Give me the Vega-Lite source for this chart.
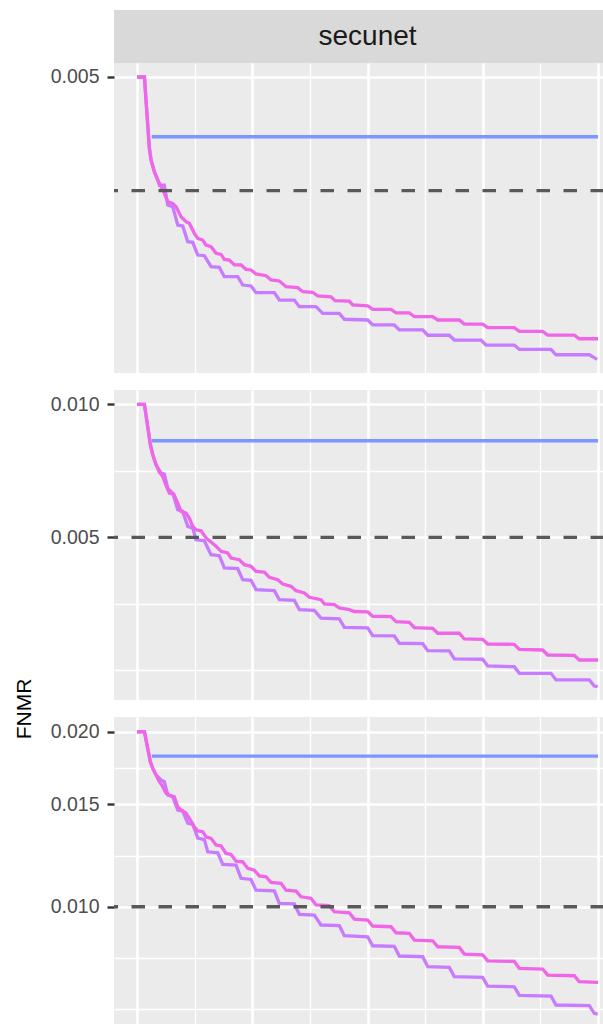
{
  "$schema": "https://vega.github.io/schema/vega-lite/v6.json",
  "padding": {"left": 14, "top": 10, "right": 0, "bottom": 0},
  "background": "#FFFFFF",
  "title": {"text": "FNMR", "orient": "left", "anchor": "middle", "dx": -192, "offset": 15, "fontSize": 21, "font": "Liberation Sans", "fontWeight": "normal", "color": "#000000"},
  "config": {
    "font": "Liberation Sans",
    "view": {"stroke": null},
    "axisY": {"labelFont": "Liberation Sans", "labelFontSize": 19.5, "labelColor": "#4D4D4D", "tickColor": "#333333", "tickSize": 7, "tickWidth": 2.4, "labelPadding": 8, "domain": false, "labelOverlap": false, "gridColor": "#FFFFFF"},
    "axisX": {"gridColor": "#FFFFFF"}
  },
  "datasets": {
    "strips": [{"strip": "secunet"}],
    "targets": [{"panel": 1, "fnmr": 0.0025}, {"panel": 2, "fnmr": 0.005}, {"panel": 3, "fnmr": 0.01}],
    "curves": [
      {"panel":1,"series":"s1","x":3.19,"fnmr":0.003474},{"panel":1,"series":"s1","x":100,"fnmr":0.003474},
      {"panel":2,"series":"s1","x":3.19,"fnmr":0.008271},{"panel":2,"series":"s1","x":100,"fnmr":0.008271},
      {"panel":3,"series":"s1","x":3.19,"fnmr":0.018166},{"panel":3,"series":"s1","x":100,"fnmr":0.018166},

      {"panel":1,"series":"s3","x":0,"fnmr":0.005},{"panel":1,"series":"s3","x":1.6,"fnmr":0.005},{"panel":1,"series":"s3","x":2.67,"fnmr":0.003237},{"panel":1,"series":"s3","x":3.04,"fnmr":0.003015},{"panel":1,"series":"s3","x":3.75,"fnmr":0.002807},{"panel":1,"series":"s3","x":4.49,"fnmr":0.002668},{"panel":1,"series":"s3","x":5.21,"fnmr":0.002562},{"panel":1,"series":"s3","x":5.92,"fnmr":0.002461},{"panel":1,"series":"s3","x":6.66,"fnmr":0.002338},{"panel":1,"series":"s3","x":7.74,"fnmr":0.002315},
      {"panel":1,"series":"s3","x":8.46,"fnmr":0.002268},{"panel":1,"series":"s3","x":9.54,"fnmr":0.002134},{"panel":1,"series":"s3","x":10.63,"fnmr":0.00207},{"panel":1,"series":"s3","x":11.34,"fnmr":0.00205},{"panel":1,"series":"s3","x":12.43,"fnmr":0.001928},{"panel":1,"series":"s3","x":13.17,"fnmr":0.00187},{"panel":1,"series":"s3","x":14.25,"fnmr":0.001851},{"panel":1,"series":"s3","x":14.97,"fnmr":0.001795},{"panel":1,"series":"s3","x":16.05,"fnmr":0.001777},{"panel":1,"series":"s3","x":17.14,"fnmr":0.001707},
      {"panel":1,"series":"s3","x":18.22,"fnmr":0.001696},{"panel":1,"series":"s3","x":18.94,"fnmr":0.001645},{"panel":1,"series":"s3","x":20.02,"fnmr":0.001638},{"panel":1,"series":"s3","x":21.11,"fnmr":0.00159},{"panel":1,"series":"s3","x":22.56,"fnmr":0.00159},{"panel":1,"series":"s3","x":23.64,"fnmr":0.001548},{"panel":1,"series":"s3","x":24.73,"fnmr":0.001542},{"panel":1,"series":"s3","x":25.81,"fnmr":0.001505},{"panel":1,"series":"s3","x":27.98,"fnmr":0.001489},{"panel":1,"series":"s3","x":29.07,"fnmr":0.001451},
      {"panel":1,"series":"s3","x":30.87,"fnmr":0.001442},{"panel":1,"series":"s3","x":32.32,"fnmr":0.001393},{"panel":1,"series":"s3","x":34.86,"fnmr":0.001385},{"panel":1,"series":"s3","x":35.94,"fnmr":0.001351},{"panel":1,"series":"s3","x":38.11,"fnmr":0.001346},{"panel":1,"series":"s3","x":39.2,"fnmr":0.001316},{"panel":1,"series":"s3","x":42.08,"fnmr":0.00131},{"panel":1,"series":"s3","x":42.95,"fnmr":0.001279},{"panel":1,"series":"s3","x":46.05,"fnmr":0.001276},{"panel":1,"series":"s3","x":46.79,"fnmr":0.001246},
      {"panel":1,"series":"s3","x":50.04,"fnmr":0.00124},{"panel":1,"series":"s3","x":51.13,"fnmr":0.001213},{"panel":1,"series":"s3","x":55.1,"fnmr":0.001213},{"panel":1,"series":"s3","x":56.18,"fnmr":0.001188},{"panel":1,"series":"s3","x":59.07,"fnmr":0.001188},{"panel":1,"series":"s3","x":60.15,"fnmr":0.00116},{"panel":1,"series":"s3","x":64.14,"fnmr":0.00116},{"panel":1,"series":"s3","x":65.23,"fnmr":0.001137},{"panel":1,"series":"s3","x":69.91,"fnmr":0.001137},{"panel":1,"series":"s3","x":71.0,"fnmr":0.001109},
      {"panel":1,"series":"s3","x":74.99,"fnmr":0.001109},{"panel":1,"series":"s3","x":76.07,"fnmr":0.001085},{"panel":1,"series":"s3","x":81.84,"fnmr":0.001085},{"panel":1,"series":"s3","x":82.93,"fnmr":0.001061},{"panel":1,"series":"s3","x":88.0,"fnmr":0.001061},{"panel":1,"series":"s3","x":89.09,"fnmr":0.001037},{"panel":1,"series":"s3","x":94.86,"fnmr":0.001037},{"panel":1,"series":"s3","x":95.94,"fnmr":0.001014},{"panel":1,"series":"s3","x":100,"fnmr":0.001014},

      {"panel":1,"series":"s2","x":0,"fnmr":0.005},{"panel":1,"series":"s2","x":1.6,"fnmr":0.005},{"panel":1,"series":"s2","x":2.67,"fnmr":0.003237},{"panel":1,"series":"s2","x":3.04,"fnmr":0.003015},{"panel":1,"series":"s2","x":3.75,"fnmr":0.002807},{"panel":1,"series":"s2","x":4.49,"fnmr":0.002668},{"panel":1,"series":"s2","x":4.84,"fnmr":0.002588},{"panel":1,"series":"s2","x":5.92,"fnmr":0.002588},{"panel":1,"series":"s2","x":6.66,"fnmr":0.002291},{"panel":1,"series":"s2","x":7.74,"fnmr":0.002268},
      {"panel":1,"series":"s2","x":8.83,"fnmr":0.002028},{"panel":1,"series":"s2","x":9.91,"fnmr":0.002016},{"panel":1,"series":"s2","x":11.0,"fnmr":0.001832},{"panel":1,"series":"s2","x":12.08,"fnmr":0.001825},{"panel":1,"series":"s2","x":13.17,"fnmr":0.001689},{"panel":1,"series":"s2","x":14.6,"fnmr":0.001682},{"panel":1,"series":"s2","x":16.05,"fnmr":0.001573},{"panel":1,"series":"s2","x":17.85,"fnmr":0.001567},{"panel":1,"series":"s2","x":18.94,"fnmr":0.00148},{"panel":1,"series":"s2","x":21.84,"fnmr":0.00148},
      {"panel":1,"series":"s2","x":22.93,"fnmr":0.001407},{"panel":1,"series":"s2","x":24.73,"fnmr":0.001399},{"panel":1,"series":"s2","x":25.81,"fnmr":0.001343},{"panel":1,"series":"s2","x":29.78,"fnmr":0.001343},{"panel":1,"series":"s2","x":30.87,"fnmr":0.001284},{"panel":1,"series":"s2","x":34.12,"fnmr":0.001284},{"panel":1,"series":"s2","x":35.21,"fnmr":0.001233},{"panel":1,"series":"s2","x":38.83,"fnmr":0.001233},{"panel":1,"series":"s2","x":40.28,"fnmr":0.001184},{"panel":1,"series":"s2","x":43.88,"fnmr":0.001184},
      {"panel":1,"series":"s2","x":44.97,"fnmr":0.001142},{"panel":1,"series":"s2","x":50.04,"fnmr":0.001137},{"panel":1,"series":"s2","x":51.13,"fnmr":0.001103},{"panel":1,"series":"s2","x":55.81,"fnmr":0.001103},{"panel":1,"series":"s2","x":56.9,"fnmr":0.00107},{"panel":1,"series":"s2","x":61.97,"fnmr":0.00107},{"panel":1,"series":"s2","x":63.06,"fnmr":0.001036},{"panel":1,"series":"s2","x":67.74,"fnmr":0.001036},{"panel":1,"series":"s2","x":68.83,"fnmr":0.001006},{"panel":1,"series":"s2","x":74.62,"fnmr":0.001006},
      {"panel":1,"series":"s2","x":75.7,"fnmr":0.000976},{"panel":1,"series":"s2","x":81.84,"fnmr":0.000976},{"panel":1,"series":"s2","x":82.93,"fnmr":0.0009507},{"panel":1,"series":"s2","x":89.8,"fnmr":0.0009507},{"panel":1,"series":"s2","x":90.89,"fnmr":0.0009197},{"panel":1,"series":"s2","x":98.11,"fnmr":0.0009197},{"panel":1,"series":"s2","x":99.8,"fnmr":0.0008946},

      {"panel":2,"series":"s3","x":0,"fnmr":0.01},{"panel":2,"series":"s3","x":1.6,"fnmr":0.01},{"panel":2,"series":"s3","x":2.89,"fnmr":0.0081},{"panel":2,"series":"s3","x":3.41,"fnmr":0.007688},{"panel":2,"series":"s3","x":4.12,"fnmr":0.007297},{"panel":2,"series":"s3","x":4.84,"fnmr":0.007025},{"panel":2,"series":"s3","x":5.57,"fnmr":0.006869},{"panel":2,"series":"s3","x":6.29,"fnmr":0.006555},{"panel":2,"series":"s3","x":7.01,"fnmr":0.006297},{"panel":2,"series":"s3","x":7.96,"fnmr":0.006265},
      {"panel":2,"series":"s3","x":8.83,"fnmr":0.005976},{"panel":2,"series":"s3","x":9.54,"fnmr":0.005723},{"panel":2,"series":"s3","x":10.63,"fnmr":0.005673},{"panel":2,"series":"s3","x":11.34,"fnmr":0.005527},{"panel":2,"series":"s3","x":12.08,"fnmr":0.005293},{"panel":2,"series":"s3","x":12.8,"fnmr":0.0052},{"panel":2,"series":"s3","x":13.88,"fnmr":0.005173},{"panel":2,"series":"s3","x":14.97,"fnmr":0.004982},{"panel":2,"series":"s3","x":16.05,"fnmr":0.004879},{"panel":2,"series":"s3","x":17.14,"fnmr":0.004771},
      {"panel":2,"series":"s3","x":18.22,"fnmr":0.004648},{"panel":2,"series":"s3","x":19.67,"fnmr":0.004607},{"panel":2,"series":"s3","x":20.39,"fnmr":0.004488},{"panel":2,"series":"s3","x":22.19,"fnmr":0.004448},{"panel":2,"series":"s3","x":23.28,"fnmr":0.004334},{"panel":2,"series":"s3","x":24.73,"fnmr":0.004298},{"panel":2,"series":"s3","x":25.81,"fnmr":0.004188},{"panel":2,"series":"s3","x":27.61,"fnmr":0.004173},{"panel":2,"series":"s3","x":28.7,"fnmr":0.004059},{"panel":2,"series":"s3","x":30.52,"fnmr":0.004009},
      {"panel":2,"series":"s3","x":31.61,"fnmr":0.00392},{"panel":2,"series":"s3","x":33.41,"fnmr":0.003873},{"panel":2,"series":"s3","x":34.49,"fnmr":0.003786},{"panel":2,"series":"s3","x":36.29,"fnmr":0.00374},{"panel":2,"series":"s3","x":37.38,"fnmr":0.003657},{"panel":2,"series":"s3","x":39.91,"fnmr":0.003612},{"panel":2,"series":"s3","x":40.63,"fnmr":0.003532},{"panel":2,"series":"s3","x":42.8,"fnmr":0.003519},{"panel":2,"series":"s3","x":43.88,"fnmr":0.003459},{"panel":2,"series":"s3","x":46.05,"fnmr":0.003428},
      {"panel":2,"series":"s3","x":47.14,"fnmr":0.003396},{"panel":2,"series":"s3","x":50.04,"fnmr":0.003388},{"panel":2,"series":"s3","x":51.13,"fnmr":0.003313},{"panel":2,"series":"s3","x":55.1,"fnmr":0.003306},{"panel":2,"series":"s3","x":56.18,"fnmr":0.003221},{"panel":2,"series":"s3","x":59.07,"fnmr":0.003211},{"panel":2,"series":"s3","x":60.15,"fnmr":0.003122},{"panel":2,"series":"s3","x":64.14,"fnmr":0.003112},{"panel":2,"series":"s3","x":65.23,"fnmr":0.003032},{"panel":2,"series":"s3","x":69.91,"fnmr":0.003032},
      {"panel":2,"series":"s3","x":71.0,"fnmr":0.002943},{"panel":2,"series":"s3","x":74.99,"fnmr":0.002938},{"panel":2,"series":"s3","x":76.07,"fnmr":0.002867},{"panel":2,"series":"s3","x":81.84,"fnmr":0.002863},{"panel":2,"series":"s3","x":82.93,"fnmr":0.002789},{"panel":2,"series":"s3","x":88.0,"fnmr":0.002779},{"panel":2,"series":"s3","x":89.09,"fnmr":0.002707},{"panel":2,"series":"s3","x":94.86,"fnmr":0.002703},{"panel":2,"series":"s3","x":95.94,"fnmr":0.002638},{"panel":2,"series":"s3","x":100,"fnmr":0.002638},

      {"panel":2,"series":"s2","x":0,"fnmr":0.01},{"panel":2,"series":"s2","x":1.6,"fnmr":0.01},{"panel":2,"series":"s2","x":2.89,"fnmr":0.0081},{"panel":2,"series":"s2","x":3.41,"fnmr":0.007688},{"panel":2,"series":"s2","x":4.12,"fnmr":0.007297},{"panel":2,"series":"s2","x":5.21,"fnmr":0.006989},{"panel":2,"series":"s2","x":5.92,"fnmr":0.006952},{"panel":2,"series":"s2","x":6.66,"fnmr":0.006463},{"panel":2,"series":"s2","x":7.74,"fnmr":0.006297},{"panel":2,"series":"s2","x":8.83,"fnmr":0.005771},
      {"panel":2,"series":"s2","x":9.91,"fnmr":0.005723},{"panel":2,"series":"s2","x":11.0,"fnmr":0.005293},{"panel":2,"series":"s2","x":12.08,"fnmr":0.005246},{"panel":2,"series":"s2","x":12.8,"fnmr":0.004938},{"panel":2,"series":"s2","x":14.6,"fnmr":0.004912},{"panel":2,"series":"s2","x":16.05,"fnmr":0.004566},{"panel":2,"series":"s2","x":17.85,"fnmr":0.004542},{"panel":2,"series":"s2","x":18.94,"fnmr":0.004261},{"panel":2,"series":"s2","x":21.84,"fnmr":0.004245},{"panel":2,"series":"s2","x":22.93,"fnmr":0.004009},
      {"panel":2,"series":"s2","x":24.73,"fnmr":0.003996},{"panel":2,"series":"s2","x":25.81,"fnmr":0.003806},{"panel":2,"series":"s2","x":29.78,"fnmr":0.003786},{"panel":2,"series":"s2","x":30.87,"fnmr":0.003612},{"panel":2,"series":"s2","x":34.12,"fnmr":0.0036},{"panel":2,"series":"s2","x":35.21,"fnmr":0.003428},{"panel":2,"series":"s2","x":38.46,"fnmr":0.003417},{"panel":2,"series":"s2","x":39.91,"fnmr":0.003282},{"panel":2,"series":"s2","x":43.88,"fnmr":0.00327},{"panel":2,"series":"s2","x":44.97,"fnmr":0.003128},
      {"panel":2,"series":"s2","x":50.04,"fnmr":0.003117},{"panel":2,"series":"s2","x":51.13,"fnmr":0.002994},{"panel":2,"series":"s2","x":55.81,"fnmr":0.00299},{"panel":2,"series":"s2","x":56.9,"fnmr":0.002878},{"panel":2,"series":"s2","x":61.97,"fnmr":0.002872},{"panel":2,"series":"s2","x":63.06,"fnmr":0.002769},{"panel":2,"series":"s2","x":67.74,"fnmr":0.002765},{"panel":2,"series":"s2","x":68.83,"fnmr":0.002652},{"panel":2,"series":"s2","x":74.99,"fnmr":0.002648},{"panel":2,"series":"s2","x":76.07,"fnmr":0.002557},
      {"panel":2,"series":"s2","x":81.84,"fnmr":0.002547},{"panel":2,"series":"s2","x":82.93,"fnmr":0.002461},{"panel":2,"series":"s2","x":89.8,"fnmr":0.002461},{"panel":2,"series":"s2","x":90.89,"fnmr":0.002377},{"panel":2,"series":"s2","x":98.11,"fnmr":0.002377},{"panel":2,"series":"s2","x":99.2,"fnmr":0.002303},{"panel":2,"series":"s2","x":99.93,"fnmr":0.002295},

      {"panel":3,"series":"s3","x":0,"fnmr":0.02},{"panel":3,"series":"s3","x":1.6,"fnmr":0.02},{"panel":3,"series":"s3","x":2.89,"fnmr":0.01776},{"panel":3,"series":"s3","x":3.41,"fnmr":0.0173},{"panel":3,"series":"s3","x":4.12,"fnmr":0.01685},{"panel":3,"series":"s3","x":4.84,"fnmr":0.01641},{"panel":3,"series":"s3","x":5.57,"fnmr":0.01609},{"panel":3,"series":"s3","x":6.29,"fnmr":0.01567},{"panel":3,"series":"s3","x":7.01,"fnmr":0.01557},{"panel":3,"series":"s3","x":8.09,"fnmr":0.01546},
      {"panel":3,"series":"s3","x":8.83,"fnmr":0.01486},{"panel":3,"series":"s3","x":9.54,"fnmr":0.01467},{"panel":3,"series":"s3","x":10.63,"fnmr":0.01448},{"panel":3,"series":"s3","x":11.34,"fnmr":0.01419},{"panel":3,"series":"s3","x":12.43,"fnmr":0.01373},{"panel":3,"series":"s3","x":13.17,"fnmr":0.0135},{"panel":3,"series":"s3","x":14.25,"fnmr":0.01346},{"panel":3,"series":"s3","x":14.97,"fnmr":0.01319},{"panel":3,"series":"s3","x":16.05,"fnmr":0.01311},{"panel":3,"series":"s3","x":17.14,"fnmr":0.01277},
      {"panel":3,"series":"s3","x":18.22,"fnmr":0.01273},{"panel":3,"series":"s3","x":19.31,"fnmr":0.01235},{"panel":3,"series":"s3","x":20.39,"fnmr":0.0123},{"panel":3,"series":"s3","x":21.48,"fnmr":0.01198},{"panel":3,"series":"s3","x":22.93,"fnmr":0.01195},{"panel":3,"series":"s3","x":24.01,"fnmr":0.01164},{"panel":3,"series":"s3","x":25.44,"fnmr":0.01156},{"panel":3,"series":"s3","x":26.53,"fnmr":0.0113},{"panel":3,"series":"s3","x":27.98,"fnmr":0.01126},{"panel":3,"series":"s3","x":29.07,"fnmr":0.01101},
      {"panel":3,"series":"s3","x":31.24,"fnmr":0.01097},{"panel":3,"series":"s3","x":32.32,"fnmr":0.01068},{"panel":3,"series":"s3","x":34.49,"fnmr":0.01064},{"panel":3,"series":"s3","x":35.57,"fnmr":0.0104},{"panel":3,"series":"s3","x":37.74,"fnmr":0.01034},{"panel":3,"series":"s3","x":38.83,"fnmr":0.01007},{"panel":3,"series":"s3","x":41.71,"fnmr":0.01004},{"panel":3,"series":"s3","x":42.8,"fnmr":0.009802},{"panel":3,"series":"s3","x":46.05,"fnmr":0.009763},{"panel":3,"series":"s3","x":47.14,"fnmr":0.009524},
      {"panel":3,"series":"s3","x":50.04,"fnmr":0.009486},{"panel":3,"series":"s3","x":51.13,"fnmr":0.009264},{"panel":3,"series":"s3","x":55.1,"fnmr":0.009238},{"panel":3,"series":"s3","x":56.18,"fnmr":0.00902},{"panel":3,"series":"s3","x":59.07,"fnmr":0.008998},{"panel":3,"series":"s3","x":60.15,"fnmr":0.008763},{"panel":3,"series":"s3","x":64.14,"fnmr":0.008738},{"panel":3,"series":"s3","x":65.23,"fnmr":0.008533},{"panel":3,"series":"s3","x":69.91,"fnmr":0.008512},{"panel":3,"series":"s3","x":71.0,"fnmr":0.008289},
      {"panel":3,"series":"s3","x":74.99,"fnmr":0.008266},{"panel":3,"series":"s3","x":76.07,"fnmr":0.008072},{"panel":3,"series":"s3","x":81.84,"fnmr":0.008053},{"panel":3,"series":"s3","x":82.93,"fnmr":0.007834},{"panel":3,"series":"s3","x":88.0,"fnmr":0.007813},{"panel":3,"series":"s3","x":89.09,"fnmr":0.007629},{"panel":3,"series":"s3","x":94.86,"fnmr":0.007608},{"panel":3,"series":"s3","x":95.94,"fnmr":0.007429},{"panel":3,"series":"s3","x":100,"fnmr":0.007411},

      {"panel":3,"series":"s2","x":0,"fnmr":0.02},{"panel":3,"series":"s2","x":1.6,"fnmr":0.02},{"panel":3,"series":"s2","x":2.89,"fnmr":0.01776},{"panel":3,"series":"s2","x":3.41,"fnmr":0.0173},{"panel":3,"series":"s2","x":4.12,"fnmr":0.01685},{"panel":3,"series":"s2","x":5.21,"fnmr":0.01652},{"panel":3,"series":"s2","x":5.92,"fnmr":0.01641},{"panel":3,"series":"s2","x":6.66,"fnmr":0.01557},{"panel":3,"series":"s2","x":7.74,"fnmr":0.01546},{"panel":3,"series":"s2","x":8.83,"fnmr":0.01467},
      {"panel":3,"series":"s2","x":9.91,"fnmr":0.01461},{"panel":3,"series":"s2","x":11.0,"fnmr":0.01393},{"panel":3,"series":"s2","x":12.08,"fnmr":0.01385},{"panel":3,"series":"s2","x":13.17,"fnmr":0.01313},{"panel":3,"series":"s2","x":14.6,"fnmr":0.01305},{"panel":3,"series":"s2","x":15.34,"fnmr":0.01243},{"panel":3,"series":"s2","x":17.51,"fnmr":0.01238},{"panel":3,"series":"s2","x":18.59,"fnmr":0.01183},{"panel":3,"series":"s2","x":21.48,"fnmr":0.01179},{"panel":3,"series":"s2","x":22.56,"fnmr":0.01119},
      {"panel":3,"series":"s2","x":24.73,"fnmr":0.01114},{"panel":3,"series":"s2","x":25.81,"fnmr":0.01068},{"panel":3,"series":"s2","x":29.78,"fnmr":0.01065},{"panel":3,"series":"s2","x":30.87,"fnmr":0.01013},{"panel":3,"series":"s2","x":34.12,"fnmr":0.01011},{"panel":3,"series":"s2","x":35.21,"fnmr":0.009704},{"panel":3,"series":"s2","x":38.46,"fnmr":0.009677},{"panel":3,"series":"s2","x":39.91,"fnmr":0.009301},{"panel":3,"series":"s2","x":43.88,"fnmr":0.009275},{"panel":3,"series":"s2","x":44.97,"fnmr":0.008914},
      {"panel":3,"series":"s2","x":50.04,"fnmr":0.008879},{"panel":3,"series":"s2","x":51.13,"fnmr":0.008567},{"panel":3,"series":"s2","x":55.81,"fnmr":0.008547},{"panel":3,"series":"s2","x":56.9,"fnmr":0.008226},{"panel":3,"series":"s2","x":61.97,"fnmr":0.008203},{"panel":3,"series":"s2","x":63.06,"fnmr":0.007884},{"panel":3,"series":"s2","x":67.74,"fnmr":0.007865},{"panel":3,"series":"s2","x":68.83,"fnmr":0.007578},{"panel":3,"series":"s2","x":74.99,"fnmr":0.00756},{"panel":3,"series":"s2","x":76.07,"fnmr":0.007304},
      {"panel":3,"series":"s2","x":81.84,"fnmr":0.007283},{"panel":3,"series":"s2","x":82.93,"fnmr":0.007039},{"panel":3,"series":"s2","x":89.8,"fnmr":0.00702},{"panel":3,"series":"s2","x":90.89,"fnmr":0.006775},{"panel":3,"series":"s2","x":98.11,"fnmr":0.006756},{"panel":3,"series":"s2","x":99.2,"fnmr":0.006556},{"panel":3,"series":"s2","x":99.93,"fnmr":0.006537}
    ]
  },
  "spacing": 17,
  "vconcat": [
    {
      "spacing": 0,
      "vconcat": [
        {
          "width": 490,
          "height": 53,
          "view": {"fill": "#D9D9D9", "stroke": null},
          "data": {"name": "strips"},
          "mark": {"type": "text", "fontSize": 28, "color": "#1A1A1A", "align": "center", "baseline": "middle", "font": "Liberation Sans"},
          "encoding": {
            "text": {"field": "strip", "type": "nominal"},
            "x": {"datum": 50, "type": "quantitative", "scale": {"domain": [-5, 101.3], "nice": false, "zero": false}, "axis": null}
          }
        },
        {
          "width": 490,
          "height": 310,
          "view": {"fill": "#EBEBEB", "stroke": null},
          "encoding": {
            "y": {"field": "fnmr", "type": "quantitative", "scale": {"type": "log", "domain": [0.000823, 0.005445], "nice": false},
              "axis": {"values": [0.005], "labelExpr": "format(datum.value, '.3f')", "grid": true, "gridWidth": 2.6, "title": null}}
          },
          "layer": [
            {"data": {"name": "curves"}, "transform": [{"filter": "datum.panel == 1 && datum.series == 's1'"}],
             "mark": {"type": "line", "color": "#7E96FF", "strokeWidth": 3.3, "clip": true},
             "encoding": {"x": {"field": "x", "type": "quantitative", "scale": {"domain": [-5, 101.3], "nice": false, "zero": false}, "axis": {"values": [0, 12.5, 25, 37.5, 50, 62.5, 75, 87.5, 100], "labels": false, "ticks": false, "domain": false, "title": null, "grid": true, "gridWidth": {"condition": {"test": "datum.value % 25 === 0", "value": 2.6}, "value": 1.3}}}}},
            {"data": {"name": "curves"}, "transform": [{"filter": "datum.panel == 1 && datum.series == 's2'"}],
             "mark": {"type": "line", "color": "#C77CFF", "strokeWidth": 3.3, "clip": true},
             "encoding": {"x": {"field": "x", "type": "quantitative", "scale": {"domain": [-5, 101.3], "nice": false, "zero": false}, "axis": {"values": [0, 12.5, 25, 37.5, 50, 62.5, 75, 87.5, 100], "labels": false, "ticks": false, "domain": false, "title": null, "grid": true, "gridWidth": {"condition": {"test": "datum.value % 25 === 0", "value": 2.6}, "value": 1.3}}}}},
            {"data": {"name": "curves"}, "transform": [{"filter": "datum.panel == 1 && datum.series == 's3'"}],
             "mark": {"type": "line", "color": "#F066E8", "strokeWidth": 3.3, "clip": true},
             "encoding": {"x": {"field": "x", "type": "quantitative", "scale": {"domain": [-5, 101.3], "nice": false, "zero": false}, "axis": {"values": [0, 12.5, 25, 37.5, 50, 62.5, 75, 87.5, 100], "labels": false, "ticks": false, "domain": false, "title": null, "grid": true, "gridWidth": {"condition": {"test": "datum.value % 25 === 0", "value": 2.6}, "value": 1.3}}}}},
            {"data": {"name": "targets"}, "transform": [{"filter": "datum.panel == 1"}],
             "mark": {"type": "rule", "color": "#595959", "strokeWidth": 3.3, "strokeDash": [13.5, 13.5]},
             "encoding": {}}
          ]
        }
      ]
    },
    {
      "width": 490,
      "height": 310,
      "view": {"fill": "#EBEBEB", "stroke": null},
      "encoding": {
        "y": {"field": "fnmr", "type": "quantitative", "scale": {"type": "log", "domain": [0.0021413, 0.010774], "nice": false},
          "axis": {"values": [0.0025, 0.0035355, 0.005, 0.0070711, 0.01],
            "labelExpr": "(datum.value == 0.005 || datum.value == 0.01) ? format(datum.value, '.3f') : ''",
            "grid": true,
            "gridWidth": {"condition": {"test": "datum.value == 0.005 || datum.value == 0.01", "value": 2.6}, "value": 1.3},
            "tickOpacity": {"condition": {"test": "datum.value == 0.005 || datum.value == 0.01", "value": 1}, "value": 0},
            "title": null}}
      },
      "layer": [
        {"data": {"name": "curves"}, "transform": [{"filter": "datum.panel == 2 && datum.series == 's1'"}],
         "mark": {"type": "line", "color": "#7E96FF", "strokeWidth": 3.3, "clip": true},
         "encoding": {"x": {"field": "x", "type": "quantitative", "scale": {"domain": [-5, 101.3], "nice": false, "zero": false}, "axis": {"values": [0, 12.5, 25, 37.5, 50, 62.5, 75, 87.5, 100], "labels": false, "ticks": false, "domain": false, "title": null, "grid": true, "gridWidth": {"condition": {"test": "datum.value % 25 === 0", "value": 2.6}, "value": 1.3}}}}},
        {"data": {"name": "curves"}, "transform": [{"filter": "datum.panel == 2 && datum.series == 's2'"}],
         "mark": {"type": "line", "color": "#C77CFF", "strokeWidth": 3.3, "clip": true},
         "encoding": {"x": {"field": "x", "type": "quantitative", "scale": {"domain": [-5, 101.3], "nice": false, "zero": false}, "axis": {"values": [0, 12.5, 25, 37.5, 50, 62.5, 75, 87.5, 100], "labels": false, "ticks": false, "domain": false, "title": null, "grid": true, "gridWidth": {"condition": {"test": "datum.value % 25 === 0", "value": 2.6}, "value": 1.3}}}}},
        {"data": {"name": "curves"}, "transform": [{"filter": "datum.panel == 2 && datum.series == 's3'"}],
         "mark": {"type": "line", "color": "#F066E8", "strokeWidth": 3.3, "clip": true},
         "encoding": {"x": {"field": "x", "type": "quantitative", "scale": {"domain": [-5, 101.3], "nice": false, "zero": false}, "axis": {"values": [0, 12.5, 25, 37.5, 50, 62.5, 75, 87.5, 100], "labels": false, "ticks": false, "domain": false, "title": null, "grid": true, "gridWidth": {"condition": {"test": "datum.value % 25 === 0", "value": 2.6}, "value": 1.3}}}}},
        {"data": {"name": "targets"}, "transform": [{"filter": "datum.panel == 2"}],
         "mark": {"type": "rule", "color": "#595959", "strokeWidth": 3.3, "strokeDash": [13.5, 13.5]},
         "encoding": {}}
      ]
    },
    {
      "width": 490,
      "height": 307,
      "view": {"fill": "#EBEBEB", "stroke": null},
      "encoding": {
        "y": {"field": "fnmr", "type": "quantitative", "scale": {"type": "log", "domain": [0.0062838, 0.021205], "nice": false},
          "axis": {"values": [0.0066667, 0.008165, 0.01, 0.0122474, 0.015, 0.0173205, 0.02],
            "labelExpr": "(datum.value == 0.01 || datum.value == 0.015 || datum.value == 0.02) ? format(datum.value, '.3f') : ''",
            "grid": true,
            "gridWidth": {"condition": {"test": "datum.value == 0.01 || datum.value == 0.015 || datum.value == 0.02", "value": 2.6}, "value": 1.3},
            "tickOpacity": {"condition": {"test": "datum.value == 0.01 || datum.value == 0.015 || datum.value == 0.02", "value": 1}, "value": 0},
            "title": null}}
      },
      "layer": [
        {"data": {"name": "curves"}, "transform": [{"filter": "datum.panel == 3 && datum.series == 's1'"}],
         "mark": {"type": "line", "color": "#7E96FF", "strokeWidth": 3.3, "clip": true},
         "encoding": {"x": {"field": "x", "type": "quantitative", "scale": {"domain": [-5, 101.3], "nice": false, "zero": false}, "axis": {"values": [0, 12.5, 25, 37.5, 50, 62.5, 75, 87.5, 100], "labels": false, "ticks": false, "domain": false, "title": null, "grid": true, "gridWidth": {"condition": {"test": "datum.value % 25 === 0", "value": 2.6}, "value": 1.3}}}}},
        {"data": {"name": "curves"}, "transform": [{"filter": "datum.panel == 3 && datum.series == 's2'"}],
         "mark": {"type": "line", "color": "#C77CFF", "strokeWidth": 3.3, "clip": true},
         "encoding": {"x": {"field": "x", "type": "quantitative", "scale": {"domain": [-5, 101.3], "nice": false, "zero": false}, "axis": {"values": [0, 12.5, 25, 37.5, 50, 62.5, 75, 87.5, 100], "labels": false, "ticks": false, "domain": false, "title": null, "grid": true, "gridWidth": {"condition": {"test": "datum.value % 25 === 0", "value": 2.6}, "value": 1.3}}}}},
        {"data": {"name": "curves"}, "transform": [{"filter": "datum.panel == 3 && datum.series == 's3'"}],
         "mark": {"type": "line", "color": "#F066E8", "strokeWidth": 3.3, "clip": true},
         "encoding": {"x": {"field": "x", "type": "quantitative", "scale": {"domain": [-5, 101.3], "nice": false, "zero": false}, "axis": {"values": [0, 12.5, 25, 37.5, 50, 62.5, 75, 87.5, 100], "labels": false, "ticks": false, "domain": false, "title": null, "grid": true, "gridWidth": {"condition": {"test": "datum.value % 25 === 0", "value": 2.6}, "value": 1.3}}}}},
        {"data": {"name": "targets"}, "transform": [{"filter": "datum.panel == 3"}],
         "mark": {"type": "rule", "color": "#595959", "strokeWidth": 3.3, "strokeDash": [13.5, 13.5]},
         "encoding": {}}
      ]
    }
  ]
}
